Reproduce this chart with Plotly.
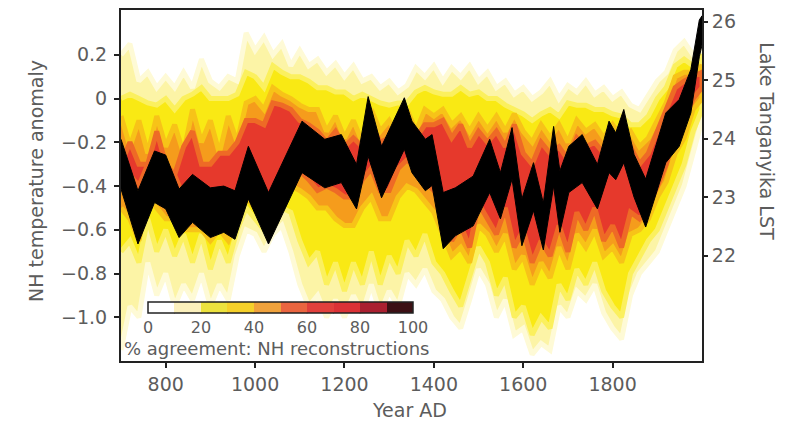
import plotly.graph_objects as go

# ---- NH reconstruction agreement envelopes (temperature anomaly, degC) ----
years = list(range(700, 2001, 20))

# outer envelope (~10-20 % agreement)
top10 = [0.20, 0.25, 0.08, 0.12, 0.05, 0.10, 0.05, 0.12, 0.05, 0.18, 0.08, 0.05, 0.10, 0.08, 0.30, 0.22, 0.28,
         0.20, 0.25, 0.15, 0.22, 0.15, 0.18, 0.12, 0.16, 0.10, 0.15, 0.08, 0.10, 0.05, 0.08, 0.03, 0.06,
         0.14, 0.10, 0.15, 0.08, 0.14, 0.10, 0.15, 0.08, 0.12, 0.05, 0.08, 0.02, 0.05, 0.00, 0.03, 0.08,
         0.00, 0.06, 0.03, 0.08, 0.02, 0.05, 0.00, 0.03, -0.03, -0.05, 0.02, 0.08, 0.12, 0.22, 0.26, 0.20, 0.25]
bot10 = [-1.15, -0.95, -1.00, -0.75, -0.90, -0.80, -0.95, -0.85, -0.92, -0.80, -0.95, -0.85, -0.92, -0.72, -0.60, -0.62, -0.70,
         -0.62, -0.58, -0.70, -0.85, -0.95, -0.90, -1.00, -0.92, -1.00, -0.90, -0.98, -0.85, -0.98, -0.88, -0.95, -0.80,
         -0.85, -0.78, -0.88, -0.92, -1.00, -1.05, -0.92, -0.78, -0.85, -1.00, -0.92, -1.08, -1.05, -1.17, -1.12, -1.15,
         -0.95, -1.00, -0.88, -0.92, -0.85, -0.98, -1.05, -1.10, -0.90, -0.80, -0.75, -0.70, -0.60, -0.50, -0.40, -0.25, -0.10]

# ~30 % agreement
top30 = [0.00, 0.02, 0.00, -0.02, -0.03, 0.00, -0.05, 0.00, 0.02, 0.05, 0.00, 0.00, 0.00, 0.02, 0.12, 0.10, 0.05,
         0.15, 0.12, 0.10, 0.10, 0.08, 0.05, 0.05, 0.03, 0.03, 0.00, 0.02, 0.00, -0.02, -0.03, -0.02, -0.02,
         0.03, 0.05, 0.03, 0.02, 0.02, 0.05, 0.02, 0.03, 0.00, 0.00, -0.03, -0.05, -0.07, -0.10, -0.07, -0.05,
         -0.08, -0.02, -0.03, -0.03, -0.05, -0.05, -0.07, -0.08, -0.12, -0.12, -0.08, 0.00, 0.05, 0.15, 0.18, 0.15, 0.20]
bot30 = [-0.70, -0.65, -0.75, -0.55, -0.70, -0.60, -0.72, -0.62, -0.75, -0.62, -0.78, -0.65, -0.75, -0.60, -0.50, -0.55, -0.60,
         -0.55, -0.50, -0.52, -0.65, -0.75, -0.70, -0.85, -0.75, -0.88, -0.75, -0.85, -0.70, -0.85, -0.72, -0.80, -0.65,
         -0.72, -0.62, -0.75, -0.80, -0.88, -0.95, -0.82, -0.68, -0.75, -0.90, -0.82, -1.00, -0.95, -1.08, -1.00, -1.05,
         -0.85, -0.92, -0.78, -0.85, -0.75, -0.88, -0.95, -1.00, -0.80, -0.72, -0.65, -0.60, -0.50, -0.40, -0.30, -0.15, -0.05]

# ~50 % agreement
top50 = [-0.08, -0.22, -0.10, -0.25, -0.08, -0.22, -0.12, -0.25, -0.05, -0.20, -0.10, -0.25, -0.08, -0.20, -0.02, 0.00, -0.05,
         0.05, 0.02, 0.00, -0.03, -0.05, -0.05, -0.15, -0.08, -0.18, -0.10, -0.20, -0.05, -0.15, -0.10, -0.18, -0.05,
         -0.15, -0.05, -0.08, -0.05, -0.12, -0.08, -0.15, -0.08, -0.14, -0.08, -0.15, -0.07, -0.15, -0.20, -0.12, -0.18,
         -0.12, -0.20, -0.10, -0.15, -0.12, -0.18, -0.12, -0.18, -0.15, -0.22, -0.18, -0.10, -0.02, 0.10, 0.12, 0.12, 0.15]
bot50 = [-0.50, -0.55, -0.65, -0.45, -0.50, -0.55, -0.55, -0.60, -0.60, -0.60, -0.65, -0.60, -0.65, -0.55, -0.45, -0.50, -0.55,
         -0.50, -0.45, -0.40, -0.42, -0.45, -0.50, -0.50, -0.55, -0.58, -0.58, -0.50, -0.45, -0.55, -0.55, -0.45, -0.40,
         -0.42, -0.47, -0.52, -0.62, -0.72, -0.68, -0.75, -0.58, -0.62, -0.70, -0.62, -0.78, -0.72, -0.85, -0.75, -0.82,
         -0.68, -0.78, -0.62, -0.68, -0.60, -0.72, -0.68, -0.75, -0.62, -0.60, -0.55, -0.45, -0.38, -0.25, -0.18, -0.05, 0.00]

# ~65 % agreement core (equal top/bottom where no core is present)
top70 = [-0.30, -0.20, -0.30, -0.30, -0.15, -0.30, -0.35, -0.22, -0.15, -0.30, -0.30, -0.25, -0.25, -0.20, -0.10, -0.10, -0.12,
         -0.02, -0.03, -0.05, -0.10, -0.12, -0.15, -0.20, -0.15, -0.22, -0.18, -0.22, -0.12, -0.20, -0.18, -0.22, -0.15,
         -0.18, -0.12, -0.12, -0.10, -0.18, -0.12, -0.22, -0.15, -0.20, -0.15, -0.22, -0.12, -0.25, -0.30, -0.20, -0.25,
         -0.22, -0.28, -0.18, -0.22, -0.20, -0.25, -0.18, -0.25, -0.22, -0.30, -0.25, -0.15, -0.05, 0.05, 0.08, 0.10, 0.12]
bot70 = [-0.30, -0.35, -0.40, -0.30, -0.35, -0.40, -0.35, -0.45, -0.50, -0.45, -0.50, -0.45, -0.50, -0.45, -0.35, -0.40, -0.45,
         -0.45, -0.40, -0.30, -0.33, -0.37, -0.42, -0.40, -0.42, -0.45, -0.45, -0.37, -0.32, -0.42, -0.42, -0.32, -0.28,
         -0.32, -0.38, -0.42, -0.50, -0.65, -0.58, -0.68, -0.48, -0.55, -0.62, -0.50, -0.68, -0.60, -0.75, -0.65, -0.72,
         -0.58, -0.70, -0.52, -0.60, -0.50, -0.65, -0.58, -0.68, -0.52, -0.55, -0.50, -0.40, -0.30, -0.15, -0.10, 0.00, 0.05]

# ---- Lake Tanganyika lake surface temperature band (degC) ----
lst_years = [700, 738, 775, 800, 830, 860, 900, 930, 955, 985, 1030, 1105, 1156, 1193, 1227, 1253, 1283, 1334,
             1351, 1381, 1396, 1421, 1448, 1488, 1525, 1549, 1575, 1597, 1623, 1645, 1668, 1682, 1702, 1732,
             1766, 1792, 1807, 1825, 1848, 1874, 1919, 1949, 1975, 1994, 2000]
lst_upper = [23.99, 23.11, 23.79, 23.72, 23.14, 23.39, 23.16, 23.19, 23.11, 23.87, 23.08, 24.30, 23.99, 24.07,
             23.56, 24.72, 23.87, 24.70, 24.30, 23.99, 24.07, 23.08, 23.16, 23.36, 23.99, 23.42, 24.19, 22.97,
             23.59, 22.90, 24.21, 23.45, 23.87, 24.07, 23.56, 24.30, 24.10, 24.50, 23.73, 23.31, 24.44, 24.67,
             25.18, 26.03, 26.10]
lst_lower = [23.14, 22.20, 22.91, 22.80, 22.31, 22.57, 22.31, 22.40, 22.28, 22.97, 22.20, 23.42, 23.16, 23.25,
             22.80, 23.70, 22.99, 23.82, 23.42, 23.11, 23.20, 22.12, 22.34, 22.51, 23.08, 22.63, 23.31, 22.17,
             22.77, 22.10, 23.19, 22.40, 23.08, 23.25, 22.80, 23.42, 23.30, 23.59, 23.00, 22.49, 23.59, 23.87,
             24.44, 25.40, 25.60]

# ---- colour bar ----
agree_ticks = [0, 20, 40, 60, 80, 100]
agree_colors = ["#ffffff", "#fbf0bc", "#ece23e", "#f5d02a", "#f0a23c", "#ea6540", "#e1403c",
                "#db3236", "#aa2030", "#3c1014"]

# envelope fill colours (fill, soft edge), outermost first
levels = [
    (top10, bot10, "#fcf4a6", "#fefad6"),
    (top30, bot30, "#f9e914", "#fbf05e"),
    (top50, bot50, "#f59c1c", "#f7c318"),
    (top70, bot70, "#e6392c", "#ee6a26"),
]

step_scale = []
n = len(agree_colors)
for k, c in enumerate(agree_colors):
    step_scale.append([k / n, c])
    step_scale.append([(k + 1) / n, c])

FONT = "DejaVu Sans"
GREY = "#5c5c5c"
AXC = "#222222"

# plot-area geometry (px) used for paper-coordinate placement
L, R, T, B = 121, 702, 8, 361
W, H = R - L, B - T


def px_x(p):
    return (p - L) / W


def px_y(p):
    return (B - p) / H


fig = go.Figure()

for top, bot, fill_c, edge_c in levels:
    fig.add_trace(go.Scatter(
        x=years + years[::-1], y=top + bot[::-1], mode="lines", fill="toself",
        fillcolor=fill_c, line=dict(color=edge_c, width=5), hoverinfo="skip",
    ))

# legend bar for % agreement
cb_left, cb_len, cb_top, cb_thick = 148, 265, 302, 11
fig.add_trace(go.Scatter(
    x=[None], y=[None], mode="markers", hoverinfo="skip",
    marker=dict(
        color=[0], cmin=0, cmax=100, colorscale=step_scale, showscale=True,
        colorbar=dict(
            orientation="h", x=px_x(cb_left), xanchor="left", y=px_y(cb_top), yanchor="top",
            lenmode="pixels", len=cb_len, thickness=cb_thick, xpad=0, ypad=0,
            outlinewidth=1.5, outlinecolor=AXC, tickvals=agree_ticks, ticks="",
            tickfont=dict(family=FONT, size=16, color=GREY), bgcolor="rgba(0,0,0,0)",
        ),
    ),
))

fig.add_trace(go.Scatter(
    x=lst_years + lst_years[::-1], y=lst_upper + lst_lower[::-1],
    yaxis="y2", mode="lines", fill="toself", fillcolor="#000000",
    line=dict(color="#000000", width=1), hoverinfo="skip",
))

shapes = []
for k in range(1, n):
    xp = cb_left + cb_len * k / n
    shapes.append(dict(type="line", xref="paper", yref="paper",
                       x0=px_x(xp), x1=px_x(xp), y0=px_y(cb_top), y1=px_y(cb_top + cb_thick),
                       line=dict(color=AXC, width=1.2)))

annotations = [
    dict(text="% agreement: NH reconstructions", xref="paper", yref="paper",
         x=px_x(122), y=px_y(348), xanchor="left", yanchor="middle", showarrow=False,
         font=dict(family=FONT, size=18, color=GREY)),
    dict(text="Year AD", xref="paper", yref="paper", x=px_x(409), y=px_y(410),
         xanchor="center", yanchor="middle", showarrow=False,
         font=dict(family=FONT, size=19, color=GREY)),
    dict(text="NH temperature anomaly", xref="paper", yref="paper", x=px_x(36), y=px_y(180),
         xanchor="center", yanchor="middle", textangle=-90, showarrow=False,
         font=dict(family=FONT, size=19, color=GREY)),
    dict(text="Lake Tanganyika LST", xref="paper", yref="paper", x=px_x(767), y=px_y(140),
         xanchor="center", yanchor="middle", textangle=90, showarrow=False,
         font=dict(family=FONT, size=19, color=GREY)),
]

nh_ticks = [0.2, 0.0, -0.2, -0.4, -0.6, -0.8, -1.0]
nh_labels = ["0.2", "0", "\u22120.2", "\u22120.4", "\u22120.6", "\u22120.8", "\u22121.0"]

tick_font = dict(family=FONT, size=19, color=GREY)
fig.update_layout(
    width=789, height=421, margin=dict(l=L, r=789 - R, t=T, b=421 - B),
    paper_bgcolor="white", plot_bgcolor="white", showlegend=False,
    shapes=shapes, annotations=annotations,
    xaxis=dict(range=[700, 2000], tickvals=[800, 1000, 1200, 1400, 1600, 1800],
               ticks="outside", ticklen=5, tickwidth=1.5, tickcolor=AXC,
               showline=True, linecolor=AXC, linewidth=2, mirror=True,
               showgrid=False, zeroline=False, tickfont=tick_font),
    yaxis=dict(range=[-1.2, 0.405], tickvals=nh_ticks, ticktext=nh_labels,
               ticks="outside", ticklen=5, tickwidth=1.5, tickcolor=AXC,
               showline=True, linecolor=AXC, linewidth=2,
               showgrid=False, zeroline=False, ticklabelstandoff=3, tickfont=tick_font),
    yaxis2=dict(range=[20.2, 26.2], overlaying="y", side="right",
                tickvals=[22, 23, 24, 25, 26], ticks="outside", ticklen=4, tickwidth=1.5,
                tickcolor=AXC, showline=True, linecolor=AXC, linewidth=2,
                showgrid=False, zeroline=False, tickfont=tick_font),
)

fig.write_html("out.html")
